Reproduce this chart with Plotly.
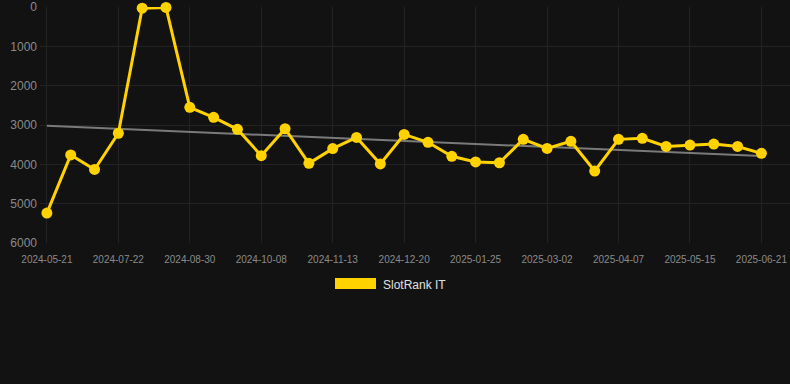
import plotly.graph_objects as go

dates = [
    "2024-05-21", "2024-06-10", "2024-07-01", "2024-07-22", "2024-08-04", "2024-08-17",
    "2024-08-30", "2024-09-12", "2024-09-25", "2024-10-08", "2024-10-20", "2024-11-01",
    "2024-11-13", "2024-11-25", "2024-12-08", "2024-12-20", "2025-01-01", "2025-01-13",
    "2025-01-25", "2025-02-06", "2025-02-18", "2025-03-02", "2025-03-14", "2025-03-26",
    "2025-04-07", "2025-04-20", "2025-05-02", "2025-05-15", "2025-05-27", "2025-06-09",
    "2025-06-21",
]
rank = [
    5240, 3760, 4130, 3210, 30, 10, 2550, 2805, 3110, 3780, 3095, 3975,
    3600, 3315, 3990, 3240, 3440, 3795, 3940, 3960, 3365, 3595, 3415, 4170,
    3365, 3340, 3545, 3510, 3485, 3545, 3720,
]
trend = [3020, 3790]
tick_labels = dates[::3]
y_ticks = [0, 1000, 2000, 3000, 4000, 5000, 6000]
series_name = "SlotRank IT"

BG = "#121212"
GOLD = "#FFD200"
GRID = "#232323"
TICK = "#8a8a8a"

W, H = 790, 384
L, R, T, B = 40, 0, 7, 141

fig = go.Figure()
fig.add_trace(go.Scatter(
    x=[dates[0], dates[-1]], y=trend, mode="lines",
    line=dict(color="#7a7a7a", width=2), showlegend=False, hoverinfo="skip",
    cliponaxis=False,
))
fig.add_trace(go.Scatter(
    x=dates, y=rank, mode="lines+markers", name=series_name,
    line=dict(color=GOLD, width=3),
    marker=dict(color=GOLD, size=11),
    showlegend=False, cliponaxis=False,
))

pw = W - L - R
ph = H - T - B


def px_x(p):
    return (p - L) / pw


def px_y(p):
    return (H - B - p) / ph


fig.add_shape(type="rect", xref="paper", yref="paper",
              x0=px_x(335), x1=px_x(376), y0=px_y(289), y1=px_y(278),
              fillcolor=GOLD, line=dict(width=0))
fig.add_annotation(xref="paper", yref="paper", x=px_x(381), y=px_y(284.5),
                   text=series_name, showarrow=False, xanchor="left", yanchor="middle",
                   font=dict(color="#e0e0e0", size=12, family="Liberation Sans, Arial, sans-serif"))

fig.update_layout(
    width=W, height=H,
    margin=dict(l=L, r=R, t=T, b=B, pad=0),
    paper_bgcolor=BG, plot_bgcolor=BG,
    showlegend=False,
    font=dict(family="Liberation Sans, Arial, sans-serif", color=TICK),
)
fig.update_xaxes(
    type="category", categoryorder="array", categoryarray=dates,
    range=[-0.29, 31.2],
    tickmode="array", tickvals=tick_labels, ticktext=tick_labels,
    showgrid=True, gridcolor=GRID, gridwidth=1, zeroline=False, showline=False,
    ticks="", tickfont=dict(size=10, color=TICK), tickangle=0,
    ticklabelstandoff=9,
)
fig.update_yaxes(
    range=[6000, 0], tickvals=y_ticks,
    showgrid=True, gridcolor=GRID, gridwidth=1, zeroline=False, showline=False,
    ticks="", tickfont=dict(size=12, color=TICK), ticklabelstandoff=2,
)

fig.write_html("out.html")
